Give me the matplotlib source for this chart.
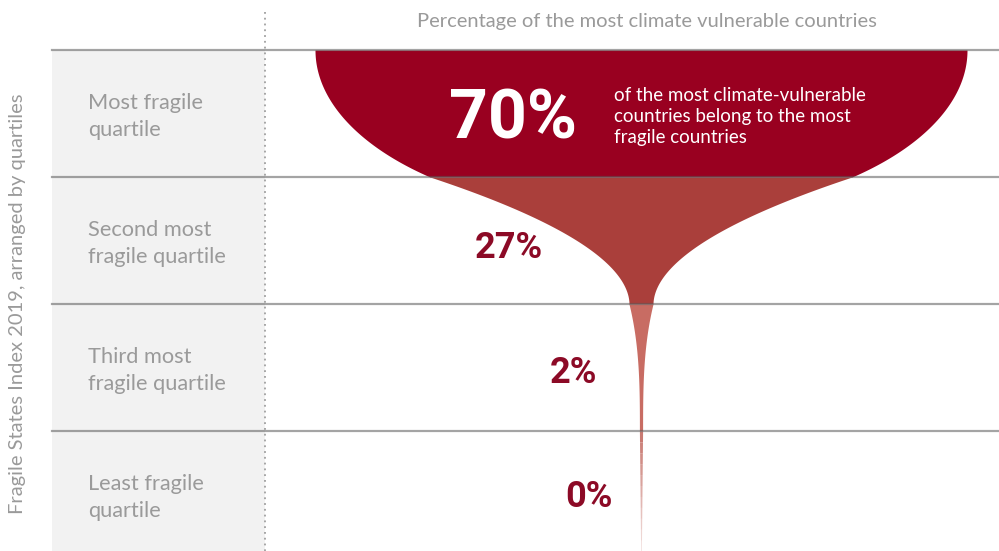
import numpy as np
import matplotlib.pyplot as plt

# --- data -------------------------------------------------------------
quartiles = ['Most fragile\nquartile',
             'Second most\nfragile quartile',
             'Third most\nfragile quartile',
             'Least fragile\nquartile']
shares = [70, 27, 2, 0]   # % of the most climate vulnerable countries
title = 'Percentage of the most climate vulnerable countries'
ylabel = 'Fragile States Index 2019, arranged by quartiles'
note = 'of the most climate-vulnerable\ncountries belong to the most\nfragile countries'

# --- style ------------------------------------------------------------
band_colors = ['#990020', '#AA3F3B', '#C86C63', '#C97A72']
label_color = '#9A9A9A'
pct_color = '#8C0A26'
center_x = 641          # funnel axis (px)
funnel_top = [326, 211, 12, 1.6]   # half width at top of each band (px)


def half_width(t):
    """funnel half width along the band coordinate t (0 = top)"""
    i = np.clip(np.floor(t).astype(int), 0, 3)
    s = t - i
    w = np.zeros_like(t)
    # first band: elliptic bowl
    b = 1 / np.sqrt(1 - (funnel_top[1] / funnel_top[0]) ** 2)
    m = i == 0
    w[m] = funnel_top[0] * np.sqrt(1 - (t[m] / b) ** 2)
    m = i == 1
    w[m] = funnel_top[2] + (funnel_top[1] - funnel_top[2]) * (1 - s[m]) ** 1.93
    m = i == 2
    w[m] = funnel_top[3] + (funnel_top[2] - funnel_top[3]) * (1 - s[m]) ** 3
    m = i == 3
    w[m] = funnel_top[3] * (1 - 0.8 * s[m])
    return w


fig = plt.figure(figsize=(9.99, 5.51), dpi=100)
ax = fig.add_axes([0, 0, 1, 1])
row_px = 127.0
y_top = -50 / row_px
y_bot = (551 - 50) / row_px
ax.set_xlim(0, 999)
ax.set_ylim(y_bot, y_top)
ax.axis('off')

n = len(quartiles)

# label column background
ax.fill_betweenx([0, y_bot], 52, 265, color='#F2F2F2', lw=0, zorder=0)
ax.plot([265, 265], [-38 / row_px, y_bot], color='#A0A0A0', lw=1.3,
        linestyle=(0, (1, 2.2)), zorder=1)

# funnel, one band per quartile
for k in range(n):
    end = min(k + 1, y_bot) if k < n - 1 else y_bot
    if k < n - 1:
        t = np.linspace(k, end, 200)
        w = half_width(t)
        ax.fill_betweenx(t, center_x - w, center_x + w, color=band_colors[k],
                         lw=0, zorder=2)
    else:
        # thin tail fading out
        edges = np.linspace(k, end, 12)
        for j in range(len(edges) - 1):
            t = np.linspace(edges[j], edges[j + 1], 10)
            w = half_width(t)
            ax.fill_betweenx(t, center_x - w, center_x + w,
                             color=band_colors[k], lw=0, zorder=2,
                             alpha=1 - 0.85 * j / (len(edges) - 1))

# horizontal separators on top
for k in range(n):
    ax.plot([52, 999], [k, k], color='#5A5A5A', alpha=0.55, lw=1.6, zorder=3)

# texts
font = 'Lato'
ax.text(647, -28 / row_px, title, ha='center', va='center',
        fontsize=14.5, color=label_color, family=font)
ax.text(18, 1.996, ylabel, rotation=90, ha='center', va='center',
        fontsize=14.5, color=label_color, family=font)

for k, lab in enumerate(quartiles):
    ax.text(88, k + 0.5 + 3 / row_px, lab, ha='left', va='center',
            fontsize=15.7, color=label_color, family=font, linespacing=1.45)

# label x centre and baseline (band units)
pct_pos = [(513, 0.693), (508.5, 1.638), (573, 2.622), (588.5, 3.598)]
for k, v in enumerate(shares):
    x, y = pct_pos[k]
    if k == 0:
        ax.text(x, y, f'{v}%', ha='center', va='baseline', fontsize=49,
                color='white', family='Roboto', weight='bold')
    else:
        ax.text(x, y, f'{v}%', ha='center', va='baseline', fontsize=26,
                color=pct_color, family='Roboto', weight='bold')

ax.text(614, 0.5 + 3 / row_px, note, ha='left', va='center', fontsize=13.5,
        color='white', family=font, linespacing=1.3)

fig.savefig('out.png', dpi=100)
